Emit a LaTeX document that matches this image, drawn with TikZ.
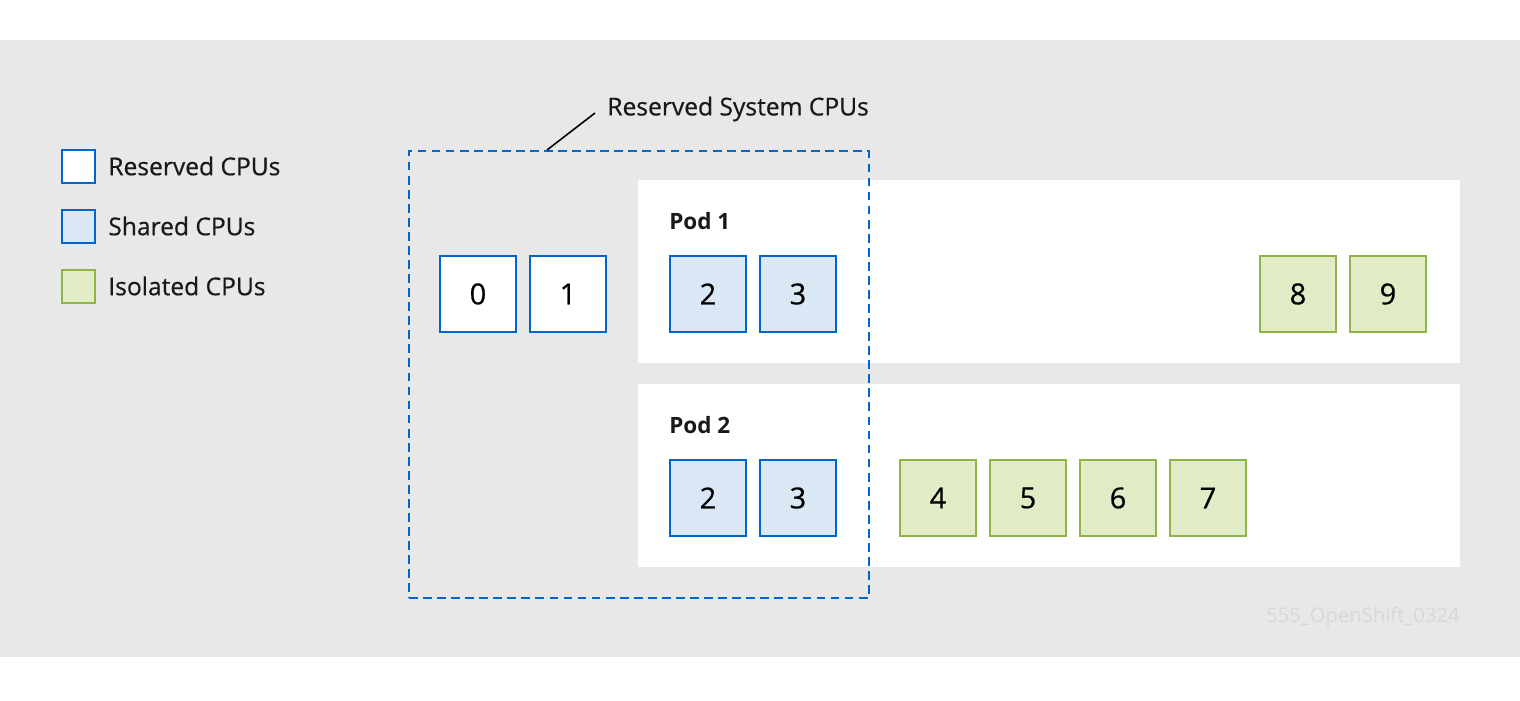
\documentclass[tikz,border=0pt]{standalone}
\usepackage{fontspec}
\setmainfont{Open Sans}
\newfontfamily\medfont[FakeBold=0.5]{Open Sans}
\usetikzlibrary{calc}
\definecolor{bgray}{HTML}{E8E8E8}
\definecolor{rblue}{HTML}{0066CC}
\definecolor{sfill}{HTML}{DAE8F6}
\definecolor{gline}{HTML}{8DB444}
\definecolor{gfill}{HTML}{E1EBC6}
\definecolor{wmark}{HTML}{D8D8D8}
\tikzset{
  cpu/.style={draw, line width=1.1pt, minimum width=1.52cm, minimum height=1.52cm, inner sep=0pt, anchor=north west, font=\medfont\fontsize{16.5}{19}\selectfont},
  rescpu/.style={cpu, draw=rblue, fill=white},
  shcpu/.style={cpu, draw=rblue, fill=sfill},
  isocpu/.style={cpu, draw=gline, fill=gfill},
  legbox/.style={draw, line width=1.1pt, minimum width=0.66cm, minimum height=0.66cm, inner sep=0pt, anchor=north west},
  legtext/.style={anchor=west, inner sep=0pt, font=\medfont\fontsize{14}{17}\selectfont, text=black!90},
  podbox/.style={fill=white, draw=none, minimum width=16.44cm, minimum height=3.66cm, anchor=north west, inner sep=0pt},
  podlabel/.style={anchor=west, inner sep=0pt, font=\bfseries\fontsize{12.8}{15}\selectfont, text=black!90}
}
\begin{document}
\begin{tikzpicture}[x=0.02cm, y=-0.02cm]
\useasboundingbox (0,0) rectangle (1520,700);
\fill[white] (0,0) rectangle (1520,700);
\fill[bgray] (0,40) rectangle (1520,657);
% legend
\node[legbox, draw=rblue, fill=white] (lres) at (61,149) {};
\node[legbox, draw=rblue, fill=sfill] (lsh) at (61,209) {};
\node[legbox, draw=gline, fill=gfill] (liso) at (61,269) {};
\node[legtext] (tres) at (108,166) {Reserved CPUs};
\node[legtext] (tsh) at (108,226) {Shared CPUs};
\node[legtext] (tiso) at (108,286) {Isolated CPUs};
% pods
\node[podbox] (pod1) at (638,180) {};
\node[podbox] (pod2) at (638,384) {};
\node[podlabel] (p1l) at (669,221) {Pod 1};
\node[podlabel] (p2l) at (669,425) {Pod 2};
% reserved cpus
\node[rescpu] (c0) at (439,255) {0};
\node[rescpu] (c1) at (529,255) {1};
% pod1 cpus
\node[shcpu] (p1c2) at (669,255) {2};
\node[shcpu] (p1c3) at (759,255) {3};
\node[isocpu] (c8) at (1259,255) {8};
\node[isocpu] (c9) at (1349,255) {9};
% pod2 cpus
\node[shcpu] (p2c2) at (669,459) {2};
\node[shcpu] (p2c3) at (759,459) {3};
\node[isocpu] (c4) at (899,459) {4};
\node[isocpu] (c5) at (989,459) {5};
\node[isocpu] (c6) at (1079,459) {6};
\node[isocpu] (c7) at (1169,459) {7};
% reserved system box
\node[draw=rblue, dash pattern=on 5pt off 3pt, line width=1.1pt, minimum width=9.2cm, minimum height=8.94cm, anchor=north west, inner sep=0pt] (sys) at (408,150) {};
\coordinate (callout) at (547,150);
\node[anchor=west, inner sep=0pt, font=\medfont\fontsize{14}{17}\selectfont, text=black!90] (syslabel) at (607,109) {Reserved System CPUs};
\draw[line width=0.9pt, black] (callout) -- ($(syslabel.west)+(-12,4)$);
\node[anchor=east, inner sep=0pt, font=\fontsize{11.5}{13}\selectfont, text=wmark] (wm) at (1460,617) {555\_OpenShift\_0324};
\end{tikzpicture}
\end{document}
